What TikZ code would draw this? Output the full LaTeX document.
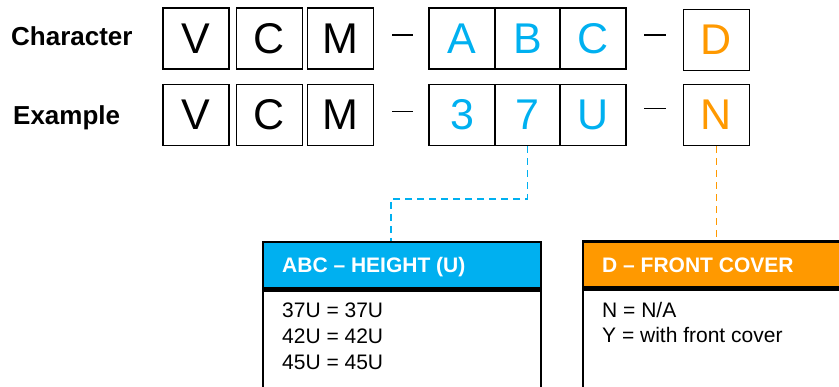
\documentclass[tikz,border=0pt]{standalone}
\usepackage{fontspec}
\setmainfont{Liberation Sans}
\usetikzlibrary{positioning}
\definecolor{skyblue}{HTML}{00B0F0}
\definecolor{amber}{HTML}{FF9900}

\begin{document}
\begin{tikzpicture}[x=1pt, y=-1pt,
   digit/.style={draw, line width=1.6pt, minimum width=66pt, minimum height=61pt, inner sep=0pt, font=\fontsize{43}{43}\selectfont},
   rowlabel/.style={anchor=base west, inner sep=0pt, font=\fontsize{26}{26}\selectfont\bfseries},
   headbox/.style={draw, line width=2.5pt, minimum width=278pt, minimum height=46pt, inner sep=0pt},
   bodybox/.style={draw, line width=2.5pt, minimum width=278pt, minimum height=130pt, inner sep=0pt, anchor=north},
   headtext/.style={anchor=base west, inner sep=0pt, text=white, font=\fontsize{21}{21}\selectfont\bfseries},
   bodytext/.style={anchor=base west, inner sep=0pt, font=\fontsize{21}{21}\selectfont},
   hgtlink/.style={color=skyblue, line width=1.8pt, dash pattern=on 7pt off 5pt},
   covlink/.style={color=amber, line width=1.8pt, dash pattern=on 7pt off 5pt}]
   \useasboundingbox (0,0) rectangle (839,387);
   \clip (0,0) rectangle (839,387);
   % row labels
   \node[rowlabel] (lchar) at (11,46) {Character};
   \node[rowlabel] (lex) at (13,125) {Example};
   % character row
   \node[digit] (cV) at (196,38.5) {V};
   \node[digit] (cC) at (269.5,38.5) {C};
   \node[digit] (cM) at (340.5,38.5) {M};
   \node[digit, text=skyblue] (cA) at (462,38.5) {A};
   \node[digit, text=skyblue] (cB) at (527.5,38.5) {B};
   \node[digit, text=skyblue] (cCc) at (593,38.5) {C};
   \node[digit, text=amber] (cD) at (716.5,40) {D};
   \draw[line width=1.2pt] (392,35) -- (413,35);
   \draw[line width=1.2pt] (644,35) -- (666,35);
   % example row
   \node[digit] (eV) at (196,115) {V};
   \node[digit] (eC) at (269.5,115) {C};
   \node[digit] (eM) at (340.5,115) {M};
   \node[digit, text=skyblue] (e3) at (462,115) {3};
   \node[digit, text=skyblue] (e7) at (527.5,115) {7};
   \node[digit, text=skyblue] (eU) at (593,115) {U};
   \node[digit, text=amber] (eN) at (716.5,115) {N};
   \draw[line width=1.2pt] (392,111.5) -- (413,111.5);
   \draw[line width=1.2pt] (644,108.5) -- (666,108.5);
   % height panel
   \node[headbox, fill=skyblue] (abchead) at (402,265) {};
   \node[bodybox, below=0pt of abchead.south, anchor=north] (abcbody) {};
   \node[headbox, fill=skyblue] at (abchead) {};
   \node[headtext] (abctitle) at (282,273) {ABC -- HEIGHT (U)};
   \node[bodytext] (h37) at (282,318) {37U = 37U};
   \node[bodytext] (h42) at (282,344) {42U = 42U};
   \node[bodytext] (h45) at (282,370) {45U = 45U};
   % cover panel
   \node[headbox, fill=amber] (dhead) at (722,264.5) {};
   \node[bodybox, below=0pt of dhead.south, anchor=north] (dbody) {};
   \node[headbox, fill=amber] at (dhead) {};
   \node[headtext] (dtitle) at (602,273) {D -- FRONT COVER};
   \node[bodytext] (dn) at (602,318) {N = N/A};
   \node[bodytext] (dy) at (602,343) {Y = with front cover};
   % links
   \coordinate (bend) at (391,199);
   \draw[hgtlink] (e7.south) |- (bend) -- (bend |- abchead.north);
   \draw[covlink] (eN.south) -- (eN.south |- dhead.north);
\end{tikzpicture}
\end{document}
